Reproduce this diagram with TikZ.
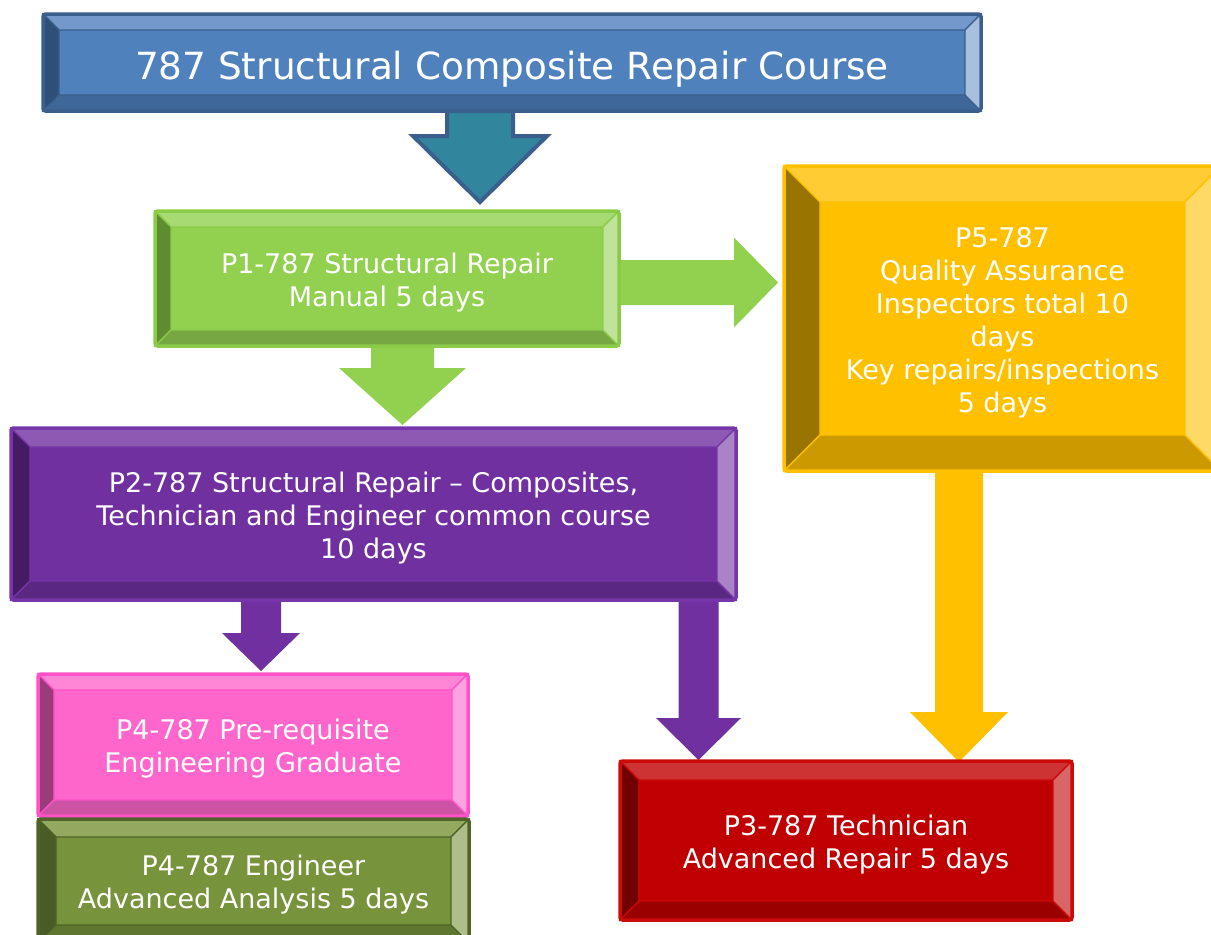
\documentclass[tikz,border=0pt]{standalone}
\usepackage{fontspec}
\newfontfamily\boxfont{DejaVu Sans}
\usetikzlibrary{calc}

% colours of the course boxes
\definecolor{tFace}{HTML}{4F81BD}\definecolor{tEdge}{HTML}{3A5F8D}
\definecolor{tTop}{HTML}{7299CA}\definecolor{tLeft}{HTML}{2E4F77}
\definecolor{tBot}{HTML}{3F6898}\definecolor{tRight}{HTML}{A7C0DE}
\definecolor{teal}{HTML}{31859C}

\definecolor{gFace}{HTML}{92D050}\definecolor{gEdge}{HTML}{8ACB48}
\definecolor{gTop}{HTML}{A8DA73}\definecolor{gLeft}{HTML}{5E8C30}
\definecolor{gBot}{HTML}{77A742}\definecolor{gRight}{HTML}{BFE39A}

\definecolor{pFace}{HTML}{7030A0}\definecolor{pEdge}{HTML}{7635A8}
\definecolor{pTop}{HTML}{8D59B3}\definecolor{pLeft}{HTML}{451B63}
\definecolor{pBot}{HTML}{5A2782}\definecolor{pRight}{HTML}{A983C6}

\definecolor{yFace}{HTML}{FFC000}\definecolor{yEdge}{HTML}{FFC000}
\definecolor{yTop}{HTML}{FFCD33}\definecolor{yLeft}{HTML}{9A7400}
\definecolor{yBot}{HTML}{CC9A00}\definecolor{yRight}{HTML}{FFD966}

\definecolor{kFace}{HTML}{FF66CC}\definecolor{kEdge}{HTML}{FF52C8}
\definecolor{kTop}{HTML}{FF85D6}\definecolor{kLeft}{HTML}{993D7A}
\definecolor{kBot}{HTML}{CC52A3}\definecolor{kRight}{HTML}{FFA3E0}

\definecolor{oFace}{HTML}{77933C}\definecolor{oEdge}{HTML}{4F6228}
\definecolor{oTop}{HTML}{92A95F}\definecolor{oLeft}{HTML}{4A5C25}
\definecolor{oBot}{HTML}{5F7630}\definecolor{oRight}{HTML}{ADBE8A}

\definecolor{rFace}{HTML}{C00000}\definecolor{rEdge}{HTML}{CC0A0A}
\definecolor{rTop}{HTML}{CD3333}\definecolor{rLeft}{HTML}{730000}
\definecolor{rBot}{HTML}{9A0000}\definecolor{rRight}{HTML}{D96666}

\pgfdeclarelayer{arrowlayer}
\pgfdeclarelayer{bevellayer}
\pgfsetlayers{arrowlayer,bevellayer,main}

\tikzset{
  course/.style={shape=rectangle, inner sep=0pt, outer sep=0pt},
  coursetext/.style={align=center, text=white, inner sep=0pt, yshift=-4pt,
    font=\boxfont\fontsize{27}{33}\selectfont},
  titletext/.style={coursetext, yshift=-3pt, font=\boxfont\fontsize{37.4}{45}\selectfont},
}

% bevelled box behind a node: #1 node, #2 bevel depth, #3 colour prefix
\newcommand\bevel[3]{%
  \begin{pgfonlayer}{bevellayer}
    \coordinate (bA) at (#1.north west);
    \coordinate (bB) at (#1.north east);
    \coordinate (bC) at (#1.south east);
    \coordinate (bD) at (#1.south west);
    \coordinate (ba) at ($(bA)+(#2,#2)$);
    \coordinate (bb) at ($(bB)+(-#2,#2)$);
    \coordinate (bc) at ($(bC)+(-#2,-#2)$);
    \coordinate (bd) at ($(bD)+(#2,-#2)$);
    \fill[#3Face] (bA) rectangle (bC);
    \begin{scope}[draw=#3Edge, line width=1.2pt, line join=miter]
      \filldraw[fill=#3Top]   (bA) -- (bB) -- (bb) -- (ba) -- cycle;
      \filldraw[fill=#3Left]  (bA) -- (ba) -- (bd) -- (bD) -- cycle;
      \filldraw[fill=#3Bot]   (bD) -- (bd) -- (bc) -- (bC) -- cycle;
      \filldraw[fill=#3Right] (bB) -- (bC) -- (bc) -- (bb) -- cycle;
    \end{scope}
    \draw[#3Edge, line width=3.5pt, rounded corners=2.5pt] (bA) rectangle (bC);
  \end{pgfonlayer}}

% block arrow pointing down: #1 start, #2 tip, #3 half shaft, #4 half head, #5 head length, #6 style
\newcommand\downblock[6]{%
  \begin{pgfonlayer}{arrowlayer}
  \path[#6] let \p1=#1, \p2=#2 in
    (\x2-#3pt,\y1) -- (\x2-#3pt,\y2+#5pt) -- (\x2-#4pt,\y2+#5pt) -- (\x2,\y2)
    -- (\x2+#4pt,\y2+#5pt) -- (\x2+#3pt,\y2+#5pt) -- (\x2+#3pt,\y1) -- cycle;
  \end{pgfonlayer}}

% block arrow pointing right, same arguments
\newcommand\rightblock[6]{%
  \begin{pgfonlayer}{arrowlayer}
  \path[#6] let \p1=#1, \p2=#2 in
    (\x1,\y2+#3pt) -- (\x2-#5pt,\y2+#3pt) -- (\x2-#5pt,\y2+#4pt) -- (\x2,\y2)
    -- (\x2-#5pt,\y2-#4pt) -- (\x2-#5pt,\y2-#3pt) -- (\x1,\y2-#3pt) -- cycle;
  \end{pgfonlayer}}

\begin{document}
\begin{tikzpicture}[x=1pt, y=-1pt]
\useasboundingbox (0,0) rectangle (1211,935);
\clip (0,0) rectangle (1211,935);

% course boxes
\node[course, minimum width=938pt, minimum height=97pt,
  label={[titletext]center:787 Structural Composite Repair Course}] (title) at (512,62.5) {};
\node[course, minimum width=464pt, minimum height=135pt,
  label={[coursetext]center:{P1-787 Structural Repair\\Manual 5 days}}] (p1) at (387,278.5) {};
\node[course, minimum width=437pt, minimum height=305pt,
  label={[coursetext]center:{P5-787\\Quality Assurance\\Inspectors total 10\\days\\Key repairs/inspections\\5 days}}] (p5) at (1002.5,318.5) {};
\node[course, minimum width=725pt, minimum height=172pt,
  label={[coursetext]center:{P2-787 Structural Repair – Composites,\\Technician and Engineer common course\\10 days}}] (p2) at (373.5,514) {};
\node[course, minimum width=430pt, minimum height=142pt,
  label={[coursetext]center:{P4-787 Pre-requisite\\Engineering Graduate}}] (p4a) at (253,745) {};
\node[course, minimum width=431pt, minimum height=124pt,
  label={[coursetext]center:{P4-787 Engineer\\Advanced Analysis 5 days}}] (p4b) at (253.5,881) {};
\node[course, minimum width=452pt, minimum height=159pt,
  label={[coursetext]center:{P3-787 Technician\\Advanced Repair 5 days}}] (p3) at (846,840.5) {};

\bevel{title}{16}{t}
\bevel{p1}{16}{g}
\bevel{p5}{36}{y}
\bevel{p2}{19}{p}
\bevel{p4a}{16}{k}
\bevel{p4b}{18}{o}
\bevel{p3}{19}{r}

% arrow tips
\coordinate (tipTitle) at (480,202);
\coordinate (tipP1) at (402.5,425);
\coordinate (tipP5side) at (778,282.5);
\coordinate (tipP4) at (261,671);
\coordinate (tipP3a) at (698.5,760);
\coordinate (tipP3b) at (959,762);

% connectors
\downblock{(title.south -| tipTitle)}{(tipTitle)}{33}{67}{66}
  {fill=teal, draw=tEdge, line width=4pt, line join=miter}
\downblock{(p1.south -| tipP1)}{(tipP1)}{31.5}{63.5}{57}{fill=gFace}
\rightblock{(p1.east |- tipP5side)}{(tipP5side)}{22.5}{45}{44}{fill=gFace}
\downblock{(p2.south -| tipP4)}{(tipP4)}{20}{39}{38}{fill=pFace}
\downblock{(p2.south -| tipP3a)}{(tipP3a)}{20}{42.5}{42}{fill=pFace}
\downblock{(p5.south -| tipP3b)}{(tipP3b)}{24}{49}{50}{fill=yFace}
\end{tikzpicture}
\end{document}
